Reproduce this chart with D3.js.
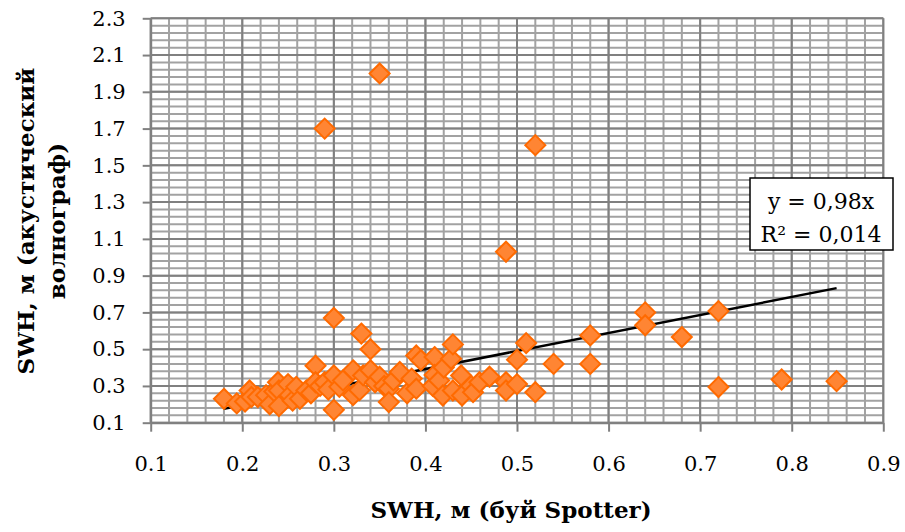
<!DOCTYPE html>
<html><head><meta charset="utf-8">
<script src="https://cdn.jsdelivr.net/npm/d3@7"></script>
<style>
html,body{margin:0;padding:0;background:#fff;}
svg{display:block;}
text{font-family:"DejaVu Serif","Liberation Serif",serif;}
</style></head>
<body>
<svg id="chart" width="905" height="532"></svg>
<script>
// Data: SWH buoy Spotter (x) vs acoustic wave gauge (y)
const buoySWH = [0.18,0.194,0.203,0.208,0.21,0.217,0.226,0.23,0.235,0.239,0.24,0.24,0.25,0.252,0.255,0.259,0.263,0.27,0.275,0.28,0.28,0.285,0.29,0.29,0.294,0.30,0.30,0.30,0.306,0.31,0.321,0.321,0.328,0.33,0.332,0.34,0.34,0.345,0.35,0.35,0.355,0.36,0.36,0.365,0.372,0.38,0.385,0.39,0.39,0.395,0.408,0.41,0.41,0.415,0.419,0.42,0.428,0.43,0.43,0.439,0.44,0.45,0.452,0.459,0.47,0.488,0.488,0.488,0.50,0.50,0.51,0.52,0.52,0.54,0.58,0.58,0.64,0.64,0.68,0.72,0.72,0.789,0.849];
const acousticSWH = [0.23,0.205,0.215,0.275,0.24,0.24,0.25,0.20,0.27,0.32,0.275,0.19,0.31,0.25,0.22,0.295,0.23,0.275,0.26,0.41,0.32,0.30,0.32,1.70,0.28,0.67,0.357,0.17,0.295,0.33,0.385,0.25,0.277,0.585,0.357,0.50,0.385,0.32,2.00,0.35,0.30,0.285,0.212,0.33,0.376,0.26,0.34,0.466,0.285,0.44,0.30,0.457,0.36,0.33,0.248,0.40,0.448,0.526,0.275,0.357,0.248,0.30,0.266,0.32,0.35,1.03,0.32,0.275,0.31,0.443,0.533,1.61,0.266,0.42,0.575,0.42,0.70,0.63,0.566,0.707,0.294,0.335,0.326];
const xTicks = [0.1,0.2,0.3,0.4,0.5,0.6,0.7,0.8,0.9];
const yTicks = [0.1,0.3,0.5,0.7,0.9,1.1,1.3,1.5,1.7,1.9,2.1,2.3];
const trendSlope = 0.98;
const legendLines = ["y = 0,98x", "R² = 0,014"];
const xTitle = "SWH, м (буй Spotter)";
const yTitleLines = ["SWH, м (акустический", "волнограф)"];

const svg = d3.select("#chart");
const L = 150.7, R = 883.3, T = 18.3, B = 422.7;
const x = d3.scaleLinear().domain([0.1, 0.9]).range([L, R]);
const y = d3.scaleLinear().domain([0.1, 2.3]).range([B, T]);

const minorColor = "#a2a2a2", majorColor = "#808080";
const g = svg.append("g");

// minor grid
const xMinor = d3.range(0, 41).map(i => 0.1 + i * 0.02);
const yMinor = d3.range(0, 56).map(i => 0.1 + i * 0.04);
g.selectAll(".vminor").data(xMinor).join("line")
  .attr("x1", d => x(d)).attr("x2", d => x(d)).attr("y1", T).attr("y2", B)
  .attr("stroke", minorColor).attr("stroke-width", 2);
g.selectAll(".hminor").data(yMinor).join("line")
  .attr("x1", L).attr("x2", R).attr("y1", d => y(d)).attr("y2", d => y(d))
  .attr("stroke", minorColor).attr("stroke-width", 2);
// major grid
g.selectAll(".vmajor").data(xTicks).join("line")
  .attr("x1", d => x(d)).attr("x2", d => x(d)).attr("y1", T).attr("y2", B)
  .attr("stroke", majorColor).attr("stroke-width", 2);
g.selectAll(".hmajor").data(yTicks).join("line")
  .attr("x1", L).attr("x2", R).attr("y1", d => y(d)).attr("y2", d => y(d))
  .attr("stroke", majorColor).attr("stroke-width", 2);

// axes
const fmt = d3.format(".1f");
const xAxis = svg.append("g").attr("transform", `translate(0,${B})`)
  .call(d3.axisBottom(x).tickValues(xTicks).tickFormat(fmt).tickSize(9).tickSizeOuter(0).tickPadding(24));
const yAxis = svg.append("g").attr("transform", `translate(${L},0)`)
  .call(d3.axisLeft(y).tickValues(yTicks).tickFormat(fmt).tickSize(8).tickSizeOuter(0).tickPadding(17));
[xAxis, yAxis].forEach(a => {
  a.select(".domain").attr("stroke", majorColor).attr("stroke-width", 2);
  a.selectAll(".tick line").attr("stroke", majorColor).attr("stroke-width", 2);
  a.selectAll(".tick text").attr("font-family", '"DejaVu Serif", serif').attr("font-size", 21).attr("fill", "#000");
});

// trend line
const xmin = d3.min(buoySWH), xmax = d3.max(buoySWH);
svg.append("line")
  .attr("x1", x(xmin)).attr("y1", y(trendSlope * xmin))
  .attr("x2", x(xmax)).attr("y2", y(trendSlope * xmax))
  .attr("stroke", "#000").attr("stroke-width", 2.5);

// points
const s = 10;
svg.append("g").selectAll("path").data(buoySWH.map((v, i) => [v, acousticSWH[i]])).join("path")
  .attr("d", d => `M${x(d[0])},${y(d[1]) - s}L${x(d[0]) + s},${y(d[1])}L${x(d[0])},${y(d[1]) + s}L${x(d[0]) - s},${y(d[1])}Z`)
  .attr("fill", "#ff8533").attr("stroke", "#ff6a00").attr("stroke-width", 2);

// legend box
svg.append("rect").attr("x", 750).attr("y", 178).attr("width", 143).attr("height", 72)
  .attr("fill", "#fff").attr("stroke", "#000").attr("stroke-width", 1.5);
svg.selectAll(".leg").data(legendLines).join("text")
  .attr("x", 821).attr("y", (d, i) => 209 + i * 33)
  .attr("text-anchor", "middle").attr("font-size", 22).attr("fill", "#000").text(d => d);

// titles
svg.append("text").attr("x", 511).attr("y", 518).attr("text-anchor", "middle")
  .attr("font-size", 23).attr("font-weight", "bold").text(xTitle);
svg.selectAll(".ytitle").data(yTitleLines).join("text")
  .attr("transform", (d, i) => `translate(${34 + i * 31},221) rotate(-90)`)
  .attr("text-anchor", "middle").attr("font-size", 23).attr("font-weight", "bold").text(d => d);
</script>
</body></html>
